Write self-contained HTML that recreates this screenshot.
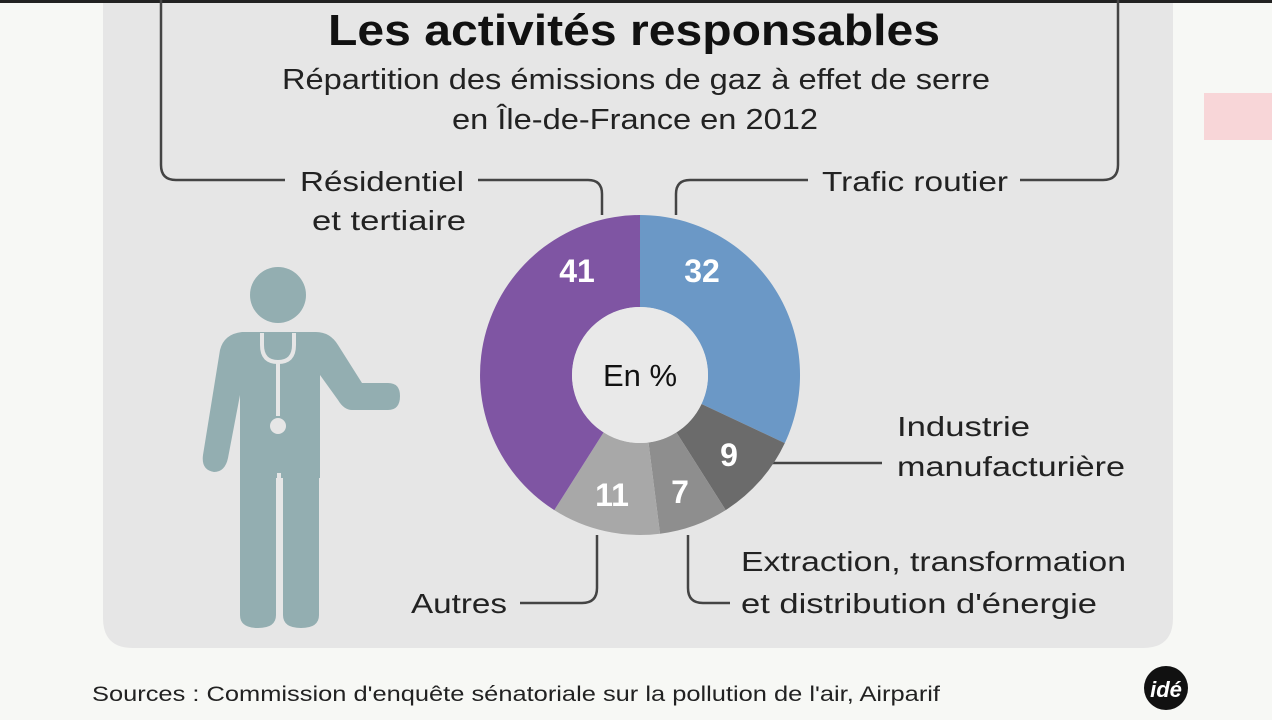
<!DOCTYPE html>
<html><head><meta charset="utf-8"><style>
body{margin:0;width:1272px;height:720px;overflow:hidden;background:#f7f8f5;font-family:"Liberation Sans",sans-serif;}
</style></head><body>
<svg width="1272" height="720" viewBox="0 0 1272 720" xmlns="http://www.w3.org/2000/svg" style="position:absolute;left:0;top:0">
<rect x="0" y="0" width="1272" height="720" fill="#f7f8f5"/>
<path d="M103 0 H1173 V618 Q1173 648 1143 648 H133 Q103 648 103 618 Z" fill="#e6e6e6"/>
<rect x="0" y="0" width="1272" height="3" fill="#222"/>
<rect x="1204" y="93" width="68" height="47" fill="#f8d6d8"/>
<g font-family="Liberation Sans, sans-serif" fill="#111">
<text x="328" y="45" font-size="44" font-weight="bold" textLength="612" lengthAdjust="spacingAndGlyphs">Les activités responsables</text>
<text x="282" y="89" font-size="29" fill="#222" textLength="708" lengthAdjust="spacingAndGlyphs">Répartition des émissions de gaz à effet de serre</text>
<text x="452" y="129" font-size="29" fill="#222" textLength="366" lengthAdjust="spacingAndGlyphs">en Île-de-France en 2012</text>
<text x="300" y="191" font-size="28" fill="#222" textLength="164" lengthAdjust="spacingAndGlyphs">Résidentiel</text>
<text x="312" y="230" font-size="28" fill="#222" textLength="154" lengthAdjust="spacingAndGlyphs">et tertiaire</text>
<text x="822" y="191" font-size="28" fill="#222" textLength="186" lengthAdjust="spacingAndGlyphs">Trafic routier</text>
<text x="897" y="436" font-size="28" fill="#222" textLength="133" lengthAdjust="spacingAndGlyphs">Industrie</text>
<text x="897" y="476" font-size="28" fill="#222" textLength="228" lengthAdjust="spacingAndGlyphs">manufacturière</text>
<text x="741" y="571" font-size="28" fill="#222" textLength="385" lengthAdjust="spacingAndGlyphs">Extraction, transformation</text>
<text x="741" y="613" font-size="28" fill="#222" textLength="356" lengthAdjust="spacingAndGlyphs">et distribution d'énergie</text>
<text x="411" y="613" font-size="28" fill="#222" textLength="96" lengthAdjust="spacingAndGlyphs">Autres</text>
<text x="92" y="701" font-size="21" fill="#222" textLength="848" lengthAdjust="spacingAndGlyphs">Sources : Commission d'enquête sénatoriale sur la pollution de l'air, Airparif</text>
</g>
<g fill="none" stroke="#444" stroke-width="2.5">
<path d="M161 0 V165 Q161 180 176 180 H285"/>
<path d="M1118 0 V165 Q1118 180 1103 180 H1020"/>
<path d="M478 180 H588 Q602 180 602 194 V215"/>
<path d="M808 180 H690 Q676 180 676 194 V215"/>
<path d="M770 463 H882"/>
<path d="M688 535 V588 Q688 603 703 603 H730"/>
<path d="M520 603 H582 Q597 603 597 588 V535"/>
</g>
<g transform="translate(640,375)">
<path d="M0 -160 A160 160 0 0 1 144.8 68.1 L61.5 29 A68 68 0 0 0 0 -68 Z" fill="#6b98c6"/>
<path d="M144.8 68.1 A160 160 0 0 1 85.7 135.1 L36.4 57.4 A68 68 0 0 0 61.5 29 Z" fill="#6b6b6b"/>
<path d="M85.7 135.1 A160 160 0 0 1 20 158.7 L8.5 67.5 A68 68 0 0 0 36.4 57.4 Z" fill="#8e8e8e"/>
<path d="M20 158.7 A160 160 0 0 1 -85.7 135.1 L-36.4 57.4 A68 68 0 0 0 8.5 67.5 Z" fill="#a8a8a8"/>
<path d="M-85.7 135.1 A160 160 0 0 1 0 -160 L0 -68 A68 68 0 0 0 -36.4 57.4 Z" fill="#7f55a3"/>
<circle r="68" fill="#e9e9e9"/>
<g font-family="Liberation Sans, sans-serif" font-weight="bold" fill="#fff" font-size="32" text-anchor="middle">
<text x="-63" y="-93">41</text>
<text x="62" y="-93">32</text>
<text x="89" y="91">9</text>
<text x="40" y="128">7</text>
<text x="-28" y="131">11</text>
</g>
<text x="0" y="11" font-size="31" text-anchor="middle" fill="#111" font-family="Liberation Sans, sans-serif">En %</text>
</g>
<g fill="#93aeb1">
<circle cx="278" cy="295" r="28"/>
<path d="M242 332 H316 Q330 332 338 345 L362 383 H388 Q400 383 400 396 Q400 410 388 410 H352 Q344 410 338 400 L320 375 V478 H240 V395 L228 458 Q225 472 214 472 Q201 470 203 455 L220 350 Q224 334 242 332 Z"/>
<path d="M240 470 H276 V615 Q276 628 258 628 Q240 628 240 615 Z"/>
<path d="M283 470 H319 V615 Q319 628 301 628 Q283 628 283 615 Z"/>
</g>
<g fill="none" stroke="#e6e6e6" stroke-width="4">
<path d="M262 333 V345 Q262 362 278 362 Q294 362 294 345 V333"/>
<path d="M278 362 V416"/>
<path d="M279 473 V628"/>
</g>
<circle cx="278" cy="426" r="8" fill="#e6e6e6"/>
<circle cx="1166" cy="688" r="22" fill="#111"/>
<text x="1166" y="697" font-size="22" font-weight="bold" font-style="italic" fill="#fff" text-anchor="middle" font-family="Liberation Sans, sans-serif">idé</text>
</svg>
</body></html>
